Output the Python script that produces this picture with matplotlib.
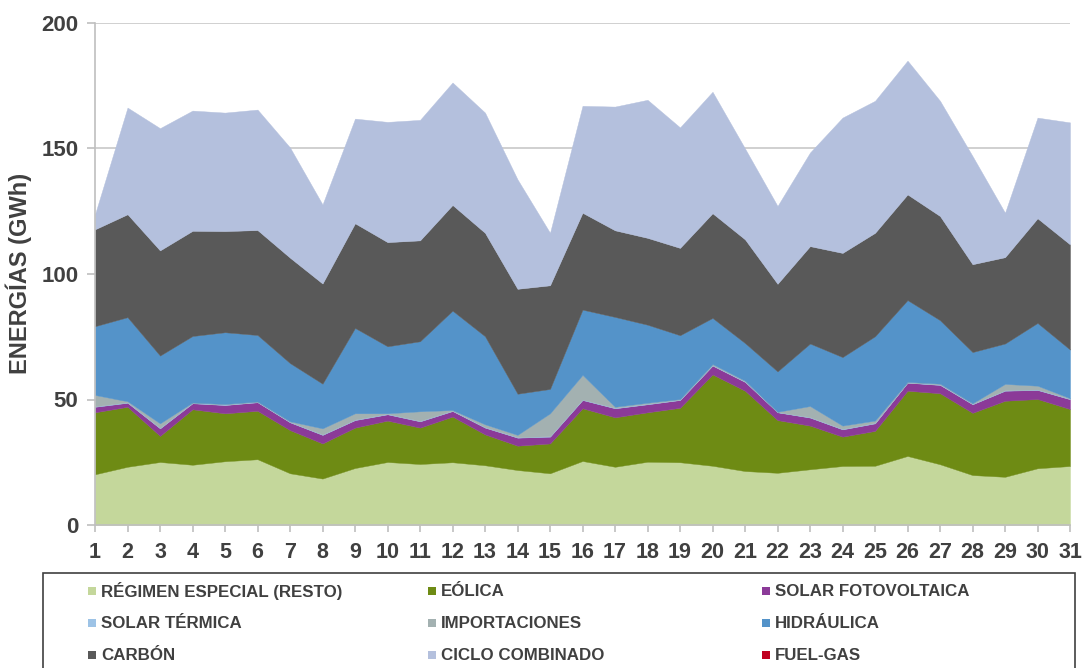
import matplotlib
matplotlib.use("Agg")
import matplotlib.pyplot as plt
from matplotlib.patches import Rectangle

days = list(range(1, 32))

regimen_especial = [20.2, 23.2, 25.1, 24.0, 25.4, 26.2, 20.6, 18.5, 22.7, 25.1, 24.3, 25.0, 23.8, 21.9, 20.6,
                    25.5, 23.2, 25.2, 25.0, 23.6, 21.5, 20.8, 22.2, 23.5, 23.6, 27.5, 24.2, 19.9, 19.2, 22.6, 23.5]
eolica = [24.7, 23.9, 10.4, 22.1, 19.1, 19.3, 17.2, 14.0, 16.1, 16.5, 14.5, 18.2, 12.3, 9.7, 11.9,
          21.0, 19.7, 19.7, 21.7, 36.4, 32.0, 21.0, 17.4, 11.7, 13.9, 26.0, 28.3, 24.8, 30.3, 27.6, 22.7]
solar_fv = [2.2, 1.6, 3.0, 2.4, 3.3, 3.4, 3.1, 3.4, 3.0, 2.5, 2.5, 2.2, 2.7, 3.2, 2.7,
            3.3, 3.6, 3.2, 3.1, 3.5, 3.5, 3.1, 3.2, 2.9, 3.0, 3.2, 3.3, 3.4, 4.0, 3.6, 3.9]
solar_termica = [0.2, 0.2, 0.2, 0.2, 0.2, 0.2, 0.2, 0.2, 0.2, 0.2, 0.2, 0.2, 0.2, 0.2, 0.2,
                 0.2, 0.2, 0.2, 0.2, 0.2, 0.2, 0.1, 0.2, 0.2, 0.2, 0.1, 0.2, 0.2, 0.2, 0.2, 0.2]
importaciones = [4.5, 0.4, 1.8, 0.1, 0.2, 0.1, 0.2, 2.4, 2.5, 0.2, 3.8, 0.2, 1.1, 0.9, 9.1,
                 9.8, 0.4, 0.4, 0.2, 0.4, 0.3, 0.1, 4.4, 1.3, 0.9, 0.2, 0.3, 0.2, 2.5, 1.5, 0.2]
hidraulica = [27.4, 33.5, 27.0, 26.5, 28.6, 26.5, 23.2, 17.8, 34.0, 26.7, 27.9, 39.6, 35.1, 16.4, 9.7,
              26.0, 35.8, 31.1, 25.4, 18.4, 15.0, 16.1, 24.9, 27.3, 33.6, 32.6, 25.3, 20.4, 16.1, 25.0, 19.4]
carbon = [38.6, 41.0, 41.9, 41.9, 40.3, 41.8, 42.0, 39.9, 41.7, 41.5, 40.2, 42.1, 41.2, 41.8, 41.3,
          38.6, 34.5, 34.6, 34.8, 41.7, 41.3, 34.9, 38.8, 41.5, 41.2, 42.1, 41.5, 35.0, 34.4, 41.7, 41.9]
ciclo_combinado = [6.0, 42.5, 48.7, 47.9, 47.2, 48.0, 43.9, 31.5, 41.7, 47.9, 48.0, 48.8, 47.9, 43.6, 20.9,
                   42.6, 49.3, 55.0, 48.0, 48.4, 36.2, 31.0, 37.3, 53.9, 52.6, 53.3, 45.9, 43.1, 17.7, 40.1, 48.6]
fuel_gas = [0.0] * 31

labels = ["RÉGIMEN ESPECIAL (RESTO)", "EÓLICA", "SOLAR FOTOVOLTAICA",
          "SOLAR TÉRMICA", "IMPORTACIONES", "HIDRÁULICA",
          "CARBÓN", "CICLO COMBINADO", "FUEL-GAS"]
colors = ["#C4D79B", "#6E8B14", "#8B3A98",
          "#9DC3E6", "#A3B1B1", "#5493C9",
          "#595959", "#B4C0DD", "#C00020"]
series = [regimen_especial, eolica, solar_fv, solar_termica, importaciones,
          hidraulica, carbon, ciclo_combinado, fuel_gas]

W, H = 1083, 668
fig = plt.figure(figsize=(W / 100, H / 100), dpi=100)

def fx(x):
    return x / W

def fy(y):
    return 1 - y / H

FONT = ["Liberation Sans", "DejaVu Sans"]
TXT = "#404040"

ax = fig.add_axes([fx(95), fy(525), fx(1070) - fx(95), fy(23) - fy(525)])
polys = ax.stackplot(days, *series, colors=colors, linewidth=0)
for p, c, vals in zip(polys, colors, series):
    if max(vals) > 0:
        p.set_edgecolor(c)
        p.set_linewidth(0.3)
    else:
        p.set_edgecolor("none")
        p.set_linewidth(0)

ax.set_xlim(1, 31)
ax.set_ylim(0, 200)
ax.set_xticks(days)
ax.set_yticks([0, 50, 100, 150, 200])
ax.set_axisbelow(True)
ax.yaxis.grid(True, color="#C8C8C8", linewidth=1.2)
for s in ["top", "right"]:
    ax.spines[s].set_visible(False)
for s in ["left", "bottom"]:
    ax.spines[s].set_color("#BFBFBF")
    ax.spines[s].set_linewidth(1.2)
ax.tick_params(axis="y", direction="out", length=6, width=1.2, color="#BFBFBF",
               pad=6, labelsize=16, labelcolor=TXT)
ax.tick_params(axis="x", direction="out", length=5, width=1.2, color="#BFBFBF",
               pad=7, labelsize=15.5, labelcolor=TXT)
for lab in ax.get_xticklabels() + ax.get_yticklabels():
    lab.set_fontweight("bold")
    lab.set_family(FONT)

fig.text(fx(19), fy(273), "ENERGÍAS (GWh)", rotation=90, ha="center", va="center",
         fontsize=17, fontweight="bold", color=TXT, family=FONT)

# Legend (manual, three evenly spaced columns)
frame = Rectangle((fx(43), fy(700)), fx(1075) - fx(43), fy(573) - fy(700),
                  transform=fig.transFigure, facecolor="white", edgecolor="#404040",
                  linewidth=1.2)
fig.patches.append(frame)
col_x = [88, 428, 762]
row_y = [591, 623, 655]
for i, (lab, c) in enumerate(zip(labels, colors)):
    r, k = divmod(i, 3)
    x0, y0 = col_x[k], row_y[r]
    sq = Rectangle((fx(x0), fy(y0 + 4)), fx(8), fy(0) - fy(8),
                   transform=fig.transFigure, facecolor=c, edgecolor="none")
    fig.patches.append(sq)
    fig.text(fx(x0 + 13), fy(y0), lab, ha="left", va="center", fontsize=12.2,
             fontweight="bold", color=TXT, family=FONT)

fig.savefig("out.png", dpi=100, facecolor="white")
